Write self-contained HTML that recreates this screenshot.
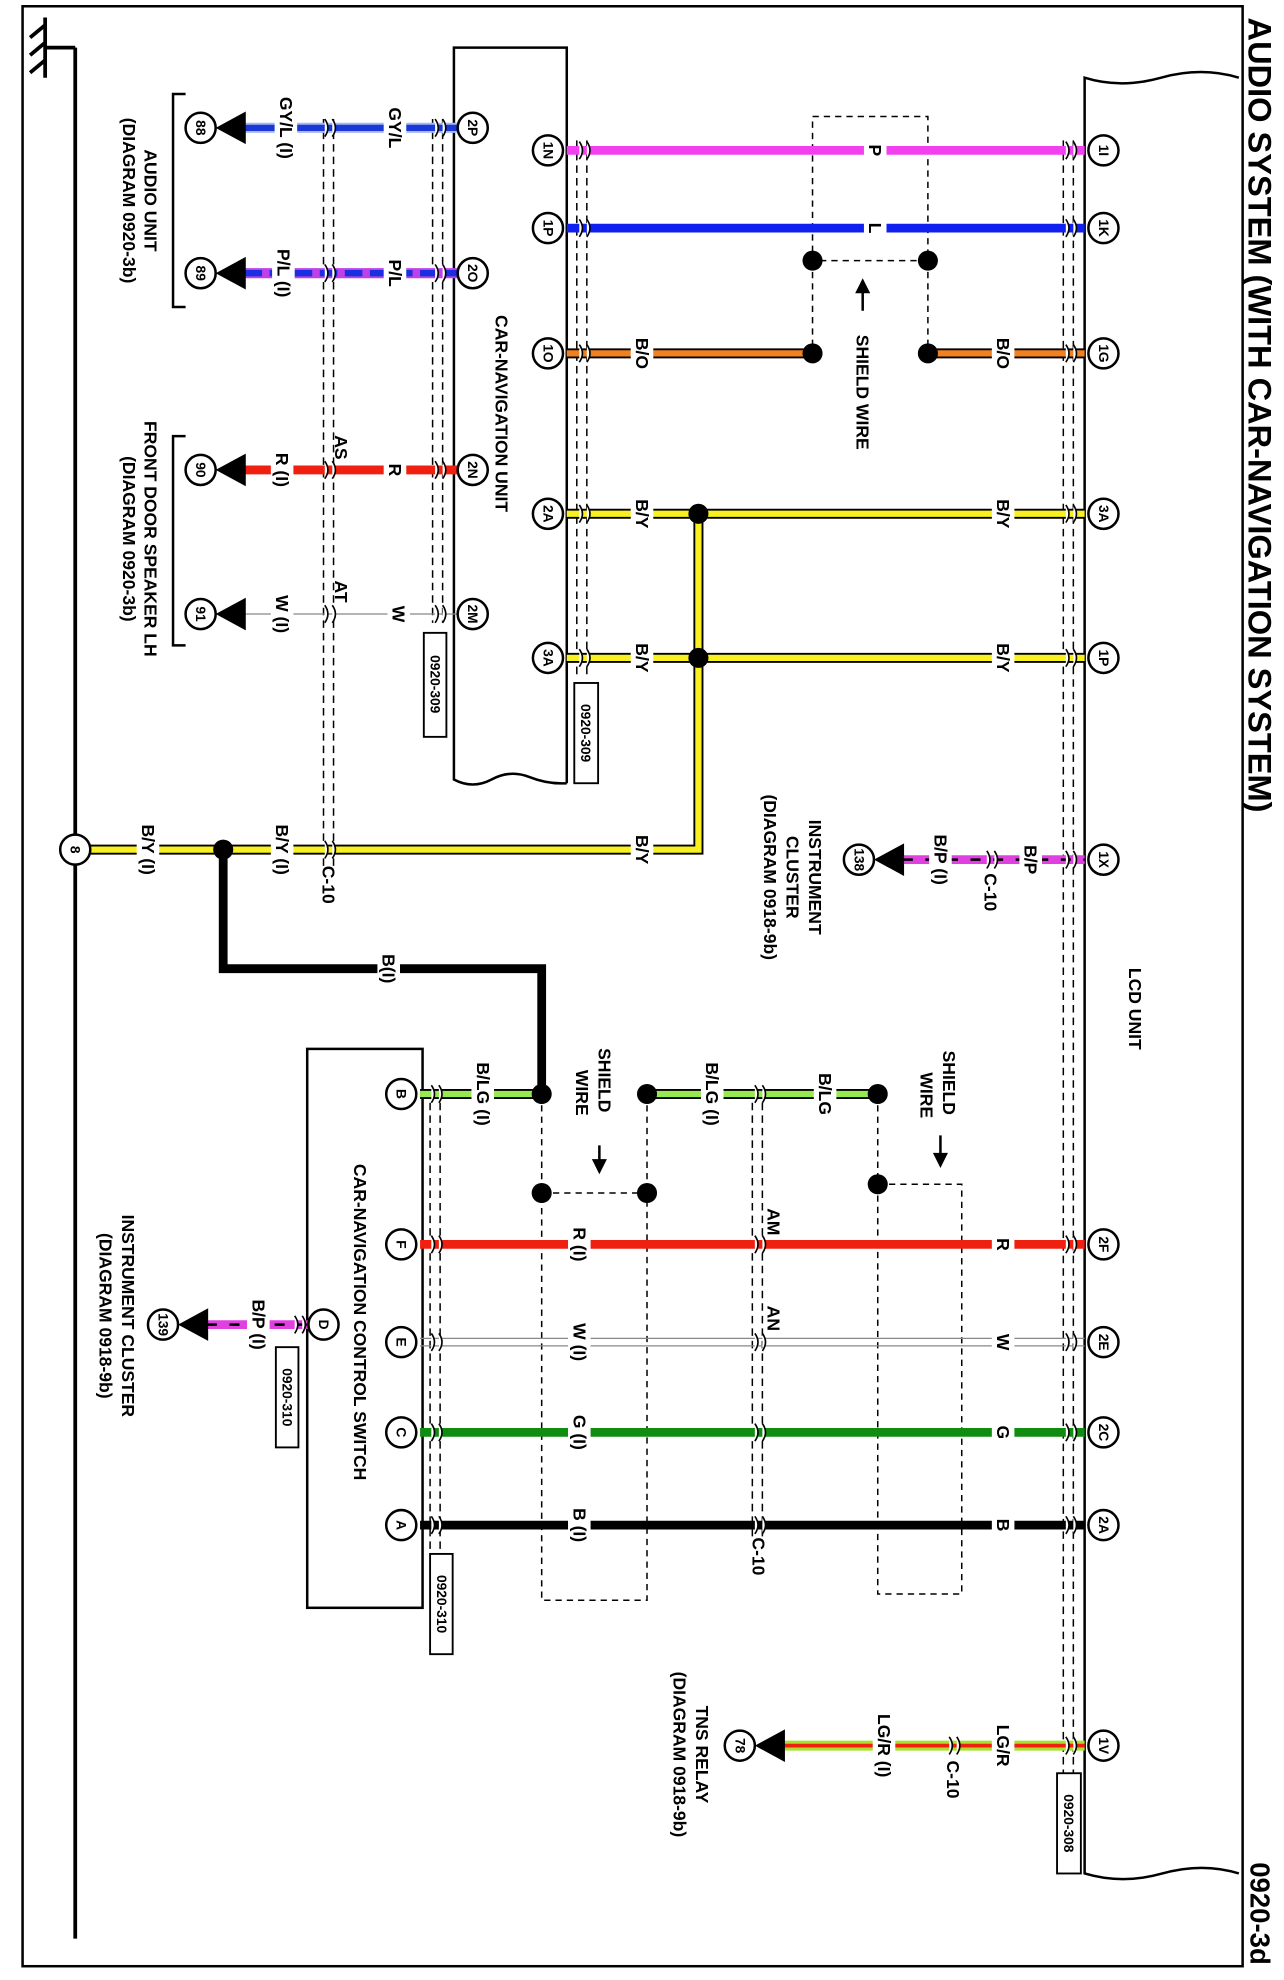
<!DOCTYPE html>
<html><head><meta charset="utf-8"><style>
html,body{margin:0;padding:0;background:#fff}
svg{display:block}
text{font-family:"Liberation Sans Narrow","Liberation Sans",Arial,sans-serif;font-weight:bold;fill:#000;text-anchor:middle;dominant-baseline:central}
.s{font-size:14px}.p{font-size:11px}.t{font-size:26px}
</style></head><body>
<svg width="1284" height="1980" viewBox="0 0 1024 1580" preserveAspectRatio="none" xmlns="http://www.w3.org/2000/svg">
<rect x="18" y="5" width="973" height="1564" fill="none" stroke="#000" stroke-width="2"/>
<text class="t" style="text-anchor:start" transform="translate(1005,14) rotate(90)">AUDIO SYSTEM (WITH CAR-NAVIGATION SYSTEM)</text>
<text class="t" style="text-anchor:start;font-size:22px" transform="translate(1005,1486) rotate(90)">0920-3d</text>
<!-- ground -->
<path d="M60 38V1547M36 38H60M36 14V62M36 20L24 30M36 34L24 44M36 48L24 58" stroke="#000" stroke-width="3" fill="none"/>
<!-- car nav unit box -->
<path d="M452 625V38H362V622q15 8 30 0t30 -2t30 5" fill="none" stroke="#000" stroke-width="2"/>
<text class="s" transform="translate(400,330) rotate(90)">CAR-NAVIGATION UNIT</text>
<!-- LCD unit -->
<path d="M988 62q-30 -9 -62 0t-61 0V1495q30 9 62 0t61 0" fill="none" stroke="#000" stroke-width="2"/>
<text class="s" transform="translate(905,805) rotate(90)">LCD UNIT</text>
<!-- control switch box -->
<rect x="245" y="837" width="92" height="446" fill="none" stroke="#000" stroke-width="2"/>
<text class="s" transform="translate(287,1055) rotate(90)">CAR-NAVIGATION CONTROL SWITCH</text>
<!-- double dashed harness lines -->
<g stroke="#000" stroke-width="1.2" stroke-dasharray="6 4" fill="none">
<path d="M258 95V692M266 95V692M345 95V497M353 95V497M460 112V540M468 112V540M848 112V1430M856 112V1430M343 870V1240M351 870V1240M600 870V1230M608 870V1230"/>
</g>
<!-- shield rects -->
<g stroke="#000" stroke-width="1.2" stroke-dasharray="5 4" fill="none">
<rect x="648" y="93" width="92" height="115"/><path d="M648 208V282M740 208V282"/>
<rect x="432" y="952" width="84" height="325"/><path d="M432 873V952M516 873V952"/>
<rect x="700" y="945" width="67" height="327"/><path d="M700 873V945"/>
</g>
<!-- left wires -->
<path d="M195 102H370" stroke="#a8b8ee" stroke-width="8"/><path d="M195 102H370" stroke="#1a38d8" stroke-width="5"/>
<path d="M195 218H370" stroke="#c040e8" stroke-width="8"/><path d="M195 218H370" stroke="#1a30e0" stroke-width="5" stroke-dasharray="14 6"/>
<path d="M195 375H370" stroke="#f02010" stroke-width="7"/>
<path d="M195 490H370" stroke="#888" stroke-width="1"/>
<!-- right wires -->
<path d="M452 120H865" stroke="#f040f0" stroke-width="7"/>
<path d="M452 182H865" stroke="#1020f0" stroke-width="7"/>
<path d="M452 282H648M740 282H865" stroke="#000" stroke-width="8"/><path d="M452 282H648M740 282H865" stroke="#f08020" stroke-width="5"/>
<path d="M452 410H865M452 525H865M557 410V678H60" stroke="#000" stroke-width="8" fill="none"/>
<path d="M452 410H865M452 525H865M557 410V678H60" stroke="#f8f020" stroke-width="5" fill="none"/>
<path d="M178 678V773H432V873" stroke="#000" stroke-width="7" fill="none"/>
<path d="M720 686H865" stroke="#e040e0" stroke-width="7"/><path d="M720 686H865" stroke="#000" stroke-width="2" stroke-dasharray="8 10"/>
<!-- lower wires -->
<path d="M335 873H432M516 873H700" stroke="#000" stroke-width="8"/><path d="M335 873H432M516 873H700" stroke="#98e850" stroke-width="5"/>
<path d="M335 993H865" stroke="#f02010" stroke-width="7"/>
<path d="M335 1068H865M335 1074H865" stroke="#888" stroke-width="1"/>
<path d="M335 1143H865" stroke="#108c10" stroke-width="7"/>
<path d="M335 1217H865" stroke="#000" stroke-width="7"/>
<path d="M165 1057H250" stroke="#e040e0" stroke-width="7"/><path d="M165 1057H250" stroke="#000" stroke-width="2" stroke-dasharray="8 10"/>
<path d="M615 1393H865" stroke="#a8e030" stroke-width="8"/><path d="M615 1393H865" stroke="#f02010" stroke-width="3"/>
<!-- dots -->
<g fill="#000">
<circle cx="648" cy="208" r="8"/><circle cx="740" cy="208" r="8"/><circle cx="648" cy="282" r="8"/><circle cx="740" cy="282" r="8"/>
<circle cx="557" cy="410" r="8"/><circle cx="557" cy="525" r="8"/><circle cx="178" cy="678" r="8"/>
<circle cx="432" cy="873" r="8"/><circle cx="516" cy="873" r="8"/><circle cx="432" cy="952" r="8"/><circle cx="516" cy="952" r="8"/>
<circle cx="700" cy="873" r="8"/><circle cx="700" cy="945" r="8"/>
<!-- arrows -->
<polygon points="172,102 196,89 196,115"/><polygon points="172,218 196,205 196,231"/>
<polygon points="172,375 196,362 196,388"/><polygon points="172,490 196,477 196,503"/>
<polygon points="697,686 721,673 721,699"/><polygon points="142,1057 166,1044 166,1070"/>
<polygon points="602,1393 626,1380 626,1406"/>
<polygon points="688,222 682,234 694,234"/><polygon points="478,937 472,925 484,925"/><polygon points="750,932 744,920 756,920"/>
</g>
<path d="M688 232V248M478 914V928M750 906V922" stroke="#000" stroke-width="2"/>
<defs><path id="cm" d="M-3 -7q5 7 0 14M3 -7q5 7 0 14" stroke="#000" stroke-width="1.3" fill="#fff"/></defs>
<g>
<use href="#cm" x="262" y="102"/><use href="#cm" x="350" y="102"/>
<use href="#cm" x="262" y="218"/><use href="#cm" x="350" y="218"/>
<use href="#cm" x="262" y="375"/><use href="#cm" x="350" y="375"/>
<use href="#cm" x="262" y="490"/><use href="#cm" x="350" y="490"/>
<use href="#cm" x="262" y="678"/>
<use href="#cm" x="465" y="120"/><use href="#cm" x="853" y="120"/>
<use href="#cm" x="465" y="182"/><use href="#cm" x="853" y="182"/>
<use href="#cm" x="465" y="282"/><use href="#cm" x="853" y="282"/>
<use href="#cm" x="465" y="410"/><use href="#cm" x="853" y="410"/>
<use href="#cm" x="465" y="525"/><use href="#cm" x="853" y="525"/>
<use href="#cm" x="853" y="686"/><use href="#cm" x="790" y="686"/>
<use href="#cm" x="347" y="873"/><use href="#cm" x="605" y="873"/>
<use href="#cm" x="347" y="993"/><use href="#cm" x="605" y="993"/><use href="#cm" x="853" y="993"/>
<use href="#cm" x="347" y="1071"/><use href="#cm" x="605" y="1071"/><use href="#cm" x="853" y="1071"/>
<use href="#cm" x="347" y="1143"/><use href="#cm" x="605" y="1143"/><use href="#cm" x="853" y="1143"/>
<use href="#cm" x="347" y="1217"/><use href="#cm" x="605" y="1217"/><use href="#cm" x="853" y="1217"/>
<use href="#cm" x="238" y="1057"/>
<use href="#cm" x="853" y="1393"/><use href="#cm" x="760" y="1393"/>
</g>
<!-- wire label gaps -->
<g fill="#fff">
<rect x="306" y="82" width="18" height="40"/><rect x="219" y="72" width="18" height="60"/>
<rect x="306" y="200" width="18" height="36"/><rect x="217" y="190" width="18" height="56"/>
<rect x="306" y="365" width="18" height="20"/><rect x="216" y="350" width="18" height="50"/>
<rect x="309" y="480" width="18" height="20"/><rect x="216" y="468" width="18" height="44"/>
<rect x="689" y="110" width="18" height="20"/><rect x="689" y="172" width="18" height="20"/>
<rect x="503" y="266" width="18" height="32"/><rect x="791" y="266" width="18" height="32"/>
<rect x="503" y="395" width="18" height="30"/><rect x="791" y="395" width="18" height="30"/>
<rect x="503" y="510" width="18" height="30"/><rect x="791" y="510" width="18" height="30"/>
<rect x="503" y="663" width="18" height="30"/><rect x="216" y="655" width="18" height="46"/><rect x="109" y="655" width="18" height="46"/>
<rect x="301" y="758" width="18" height="30"/>
<rect x="813" y="670" width="18" height="32"/><rect x="741" y="663" width="18" height="46"/>
<rect x="376" y="850" width="18" height="46"/><rect x="559" y="850" width="18" height="46"/><rect x="649" y="855" width="18" height="36"/>
<rect x="453" y="975" width="18" height="36"/><rect x="791" y="983" width="18" height="20"/>
<rect x="453" y="1053" width="18" height="36"/><rect x="791" y="1061" width="18" height="20"/>
<rect x="453" y="1125" width="18" height="36"/><rect x="791" y="1133" width="18" height="20"/>
<rect x="453" y="1199" width="18" height="36"/><rect x="791" y="1207" width="18" height="20"/>
<rect x="197" y="1035" width="18" height="44"/>
<rect x="791" y="1373" width="18" height="40"/><rect x="696" y="1365" width="18" height="56"/>
</g>
<!-- wire labels -->
<g>
<text class="s" transform="translate(315,102) rotate(90)">GY/L</text><text class="s" transform="translate(228,102) rotate(90)">GY/L (I)</text>
<text class="s" transform="translate(315,218) rotate(90)">P/L</text><text class="s" transform="translate(226,218) rotate(90)">P/L (I)</text>
<text class="s" transform="translate(315,375) rotate(90)">R</text><text class="s" transform="translate(272,357) rotate(90)">AS</text><text class="s" transform="translate(225,375) rotate(90)">R (I)</text>
<text class="s" transform="translate(318,490) rotate(90)">W</text><text class="s" transform="translate(272,472) rotate(90)">AT</text><text class="s" transform="translate(225,490) rotate(90)">W (I)</text>
<text class="s" transform="translate(698,120) rotate(90)">P</text><text class="s" transform="translate(698,182) rotate(90)">L</text>
<text class="s" transform="translate(512,282) rotate(90)">B/O</text><text class="s" transform="translate(800,282) rotate(90)">B/O</text>
<text class="s" transform="translate(512,410) rotate(90)">B/Y</text><text class="s" transform="translate(800,410) rotate(90)">B/Y</text>
<text class="s" transform="translate(512,525) rotate(90)">B/Y</text><text class="s" transform="translate(800,525) rotate(90)">B/Y</text>
<text class="s" transform="translate(512,678) rotate(90)">B/Y</text><text class="s" transform="translate(225,678) rotate(90)">B/Y (I)</text><text class="s" transform="translate(118,678) rotate(90)">B/Y (I)</text>
<text class="s" transform="translate(262,706) rotate(90)">C-10</text>
<text class="s" transform="translate(310,773) rotate(90)">B(I)</text>
<text class="s" transform="translate(822,686) rotate(90)">B/P</text><text class="s" transform="translate(750,686) rotate(90)">B/P (I)</text><text class="s" transform="translate(790,712) rotate(90)">C-10</text>
<text class="s" transform="translate(688,313) rotate(90)">SHIELD WIRE</text>
<text class="s" transform="translate(650,700) rotate(90)">INSTRUMENT</text><text class="s" transform="translate(632,700) rotate(90)">CLUSTER</text><text class="s" transform="translate(614,700) rotate(90)">(DIAGRAM 0918-9b)</text>
<text class="s" transform="translate(120,160) rotate(90)">AUDIO UNIT</text><text class="s" transform="translate(103,160) rotate(90)">(DIAGRAM 0920-3b)</text>
<text class="s" transform="translate(120,430) rotate(90)">FRONT DOOR SPEAKER LH</text><text class="s" transform="translate(103,430) rotate(90)">(DIAGRAM 0920-3b)</text>
<text class="s" transform="translate(385,873) rotate(90)">B/LG (I)</text><text class="s" transform="translate(568,873) rotate(90)">B/LG (I)</text><text class="s" transform="translate(658,873) rotate(90)">B/LG</text>
<text class="s" transform="translate(482,862) rotate(90)">SHIELD</text><text class="s" transform="translate(464,872) rotate(90)">WIRE</text>
<text class="s" transform="translate(757,864) rotate(90)">SHIELD</text><text class="s" transform="translate(739,874) rotate(90)">WIRE</text>
<text class="s" transform="translate(462,993) rotate(90)">R (I)</text><text class="s" transform="translate(617,975) rotate(90)">AM</text><text class="s" transform="translate(800,993) rotate(90)">R</text>
<text class="s" transform="translate(462,1071) rotate(90)">W (I)</text><text class="s" transform="translate(617,1052) rotate(90)">AN</text><text class="s" transform="translate(800,1071) rotate(90)">W</text>
<text class="s" transform="translate(462,1143) rotate(90)">G (I)</text><text class="s" transform="translate(800,1143) rotate(90)">G</text>
<text class="s" transform="translate(462,1217) rotate(90)">B (I)</text><text class="s" transform="translate(800,1217) rotate(90)">B</text><text class="s" transform="translate(605,1242) rotate(90)">C-10</text>
<text class="s" transform="translate(206,1057) rotate(90)">B/P (I)</text>
<text class="s" transform="translate(102,1050) rotate(90)">INSTRUMENT CLUSTER</text><text class="s" transform="translate(84,1050) rotate(90)">(DIAGRAM 0918-9b)</text>
<text class="s" transform="translate(800,1393) rotate(90)">LG/R</text><text class="s" transform="translate(705,1393) rotate(90)">LG/R (I)</text><text class="s" transform="translate(760,1420) rotate(90)">C-10</text>
<text class="s" transform="translate(560,1400) rotate(90)">TNS RELAY</text><text class="s" transform="translate(542,1400) rotate(90)">(DIAGRAM 0918-9b)</text>
</g>
<!-- brackets -->
<path d="M148 75H138V245H148M148 348H138V515H148" fill="none" stroke="#000" stroke-width="2"/>
<!-- connector id boxes -->
<g fill="#fff" stroke="#000" stroke-width="1.5">
<rect x="338" y="505" width="18" height="83"/><rect x="458" y="545" width="19" height="80"/>
<rect x="220" y="1075" width="18" height="80"/><rect x="343" y="1240" width="18" height="80"/>
<rect x="843" y="1415" width="19" height="80"/>
</g>
<text class="p" transform="translate(347,546) rotate(90)">0920-309</text>
<text class="p" transform="translate(467,585) rotate(90)">0920-309</text>
<text class="p" transform="translate(229,1115) rotate(90)">0920-310</text>
<text class="p" transform="translate(352,1280) rotate(90)">0920-310</text>
<text class="p" transform="translate(852,1455) rotate(90)">0920-308</text>
<!-- pin circles -->
<g fill="#fff" stroke="#000" stroke-width="2">
<circle cx="377" cy="102" r="12"/><circle cx="377" cy="218" r="12"/><circle cx="377" cy="375" r="12"/><circle cx="377" cy="490" r="12"/>
<circle cx="437" cy="120" r="12"/><circle cx="437" cy="182" r="12"/><circle cx="437" cy="282" r="12"/><circle cx="437" cy="410" r="12"/><circle cx="437" cy="525" r="12"/>
<circle cx="880" cy="120" r="12"/><circle cx="880" cy="182" r="12"/><circle cx="880" cy="282" r="12"/><circle cx="880" cy="410" r="12"/><circle cx="880" cy="525" r="12"/>
<circle cx="880" cy="686" r="12"/><circle cx="880" cy="993" r="12"/><circle cx="880" cy="1071" r="12"/><circle cx="880" cy="1143" r="12"/><circle cx="880" cy="1217" r="12"/><circle cx="880" cy="1393" r="12"/>
<circle cx="320" cy="873" r="12"/><circle cx="320" cy="993" r="12"/><circle cx="320" cy="1071" r="12"/><circle cx="320" cy="1143" r="12"/><circle cx="320" cy="1217" r="12"/>
<circle cx="258" cy="1057" r="12"/>
<circle cx="160" cy="102" r="12"/><circle cx="160" cy="218" r="12"/><circle cx="160" cy="375" r="12"/><circle cx="160" cy="490" r="12"/>
<circle cx="685" cy="686" r="12"/><circle cx="130" cy="1057" r="12"/><circle cx="590" cy="1393" r="12"/><circle cx="60" cy="678" r="12"/>
</g>
<g>
<text class="p" transform="translate(377,102) rotate(90)">2P</text><text class="p" transform="translate(377,218) rotate(90)">2O</text><text class="p" transform="translate(377,375) rotate(90)">2N</text><text class="p" transform="translate(377,490) rotate(90)">2M</text>
<text class="p" transform="translate(437,120) rotate(90)">1N</text><text class="p" transform="translate(437,182) rotate(90)">1P</text><text class="p" transform="translate(437,282) rotate(90)">1O</text><text class="p" transform="translate(437,410) rotate(90)">2A</text><text class="p" transform="translate(437,525) rotate(90)">3A</text>
<text class="p" transform="translate(880,120) rotate(90)">1I</text><text class="p" transform="translate(880,182) rotate(90)">1K</text><text class="p" transform="translate(880,282) rotate(90)">1G</text><text class="p" transform="translate(880,410) rotate(90)">3A</text><text class="p" transform="translate(880,525) rotate(90)">1P</text>
<text class="p" transform="translate(880,686) rotate(90)">1X</text><text class="p" transform="translate(880,993) rotate(90)">2F</text><text class="p" transform="translate(880,1071) rotate(90)">2E</text><text class="p" transform="translate(880,1143) rotate(90)">2C</text><text class="p" transform="translate(880,1217) rotate(90)">2A</text><text class="p" transform="translate(880,1393) rotate(90)">1V</text>
<text class="p" transform="translate(320,873) rotate(90)">B</text><text class="p" transform="translate(320,993) rotate(90)">F</text><text class="p" transform="translate(320,1071) rotate(90)">E</text><text class="p" transform="translate(320,1143) rotate(90)">C</text><text class="p" transform="translate(320,1217) rotate(90)">A</text>
<text class="p" transform="translate(258,1057) rotate(90)">D</text>
<text class="p" transform="translate(160,102) rotate(90)">88</text><text class="p" transform="translate(160,218) rotate(90)">89</text><text class="p" transform="translate(160,375) rotate(90)">90</text><text class="p" transform="translate(160,490) rotate(90)">91</text>
<text class="p" transform="translate(685,686) rotate(90)">138</text><text class="p" transform="translate(130,1057) rotate(90)">139</text><text class="p" transform="translate(590,1393) rotate(90)">78</text><text class="p" transform="translate(60,678) rotate(90)">8</text>
</g>
</svg>
</body></html>
